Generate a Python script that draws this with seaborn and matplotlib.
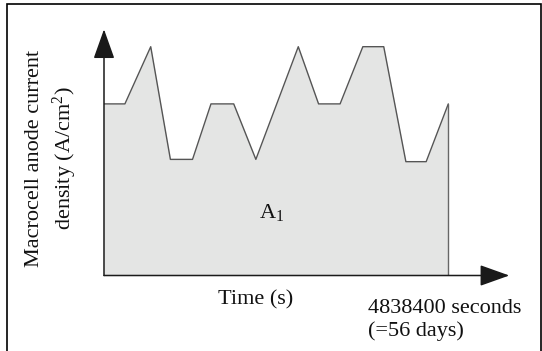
import numpy as np
import pandas as pd
import matplotlib
matplotlib.use("Agg")
import matplotlib.pyplot as plt
from matplotlib.patches import FancyArrowPatch, Rectangle, ArrowStyle
import seaborn as sns

# ---- data ----
time_days = [0, 3.4, 7.6, 10.8, 14.4, 17.4, 21.1, 24.7, 31.6, 34.9, 38.4, 42.1, 45.5, 49.1, 52.4, 56]
density = [3, 3, 4, 2.03, 2.03, 3, 3, 2.03, 4, 3, 3, 4, 4, 1.99, 1.99, 3]
SECONDS_PER_DAY = 86400
x_label = "Time (s)"
y_label = "Macrocell anode current\ndensity (A/cm$^{\\mathregular{2}}$)"
area_label = "A$_{\\mathregular{1}}$"
end_label_1 = "4838400 seconds"
end_label_2 = "(=56 days)"

time_s = np.array(time_days) * SECONDS_PER_DAY
df = pd.DataFrame({"time": time_s, "density": density})

sns.set_theme(style="white")
plt.rcParams["font.family"] = ["Liberation Serif", "DejaVu Serif"]
plt.rcParams["mathtext.fontset"] = "custom"
plt.rcParams["mathtext.rm"] = "Liberation Serif"
plt.rcParams["mathtext.it"] = "Liberation Serif"
plt.rcParams["mathtext.default"] = "regular"

W, H = 542, 351
fig = plt.figure(figsize=(W / 100, H / 100), dpi=100)
fig.patch.set_facecolor("white")

def fx(x):
    return x / W

def fy(y):
    return 1 - y / H

# axes placed so origin at (104, 275.5) px and arrow tips at x=509.3 / y=29.3
x0, y0, x1, y1 = 104, 275.5, 509.3, 29.3
ax = fig.add_axes([fx(x0), fy(y0), (x1 - x0) / W, (y0 - y1) / H])
ax.set_facecolor("none")

ax.fill_between(df["time"], df["density"], 0, color="#e4e5e4", linewidth=0, zorder=1)
sns.lineplot(data=df, x="time", y="density", ax=ax, color="#555555", linewidth=1.0,
             sort=False, estimator=None, zorder=2)
# closing vertical edge at the end of the record
end_df = pd.DataFrame({"time": [time_s[-1], time_s[-1]], "density": [density[-1], 0]})
sns.lineplot(data=end_df, x="time", y="density", ax=ax, color="#666666", linewidth=1.0,
             sort=False, estimator=None, zorder=2)

ax.set_xlim(0, (x1 - x0) / ((344.3) / 56) * SECONDS_PER_DAY)
ax.set_ylim(0, (y0 - y1) / 57.2)
ax.set_xticks([])
ax.set_yticks([])
ax.set_xlabel("")
ax.set_ylabel("")
for s in ax.spines.values():
    s.set_visible(False)

# arrow axes
style = ArrowStyle("-|>", head_length=18.5, head_width=6.6)
for start, end in [((0, 0), (0, 1)), ((0, 0), (1, 0))]:
    arr = FancyArrowPatch(start, end, transform=ax.transAxes, arrowstyle=style,
                          mutation_scale=1, shrinkA=0, shrinkB=0, color="#1a1a1a",
                          linewidth=1.1, clip_on=False, zorder=3)
    ax.add_patch(arr)

# texts
fs = 16
fig.text(fx(256), fy(304), x_label, ha="center", va="baseline", fontsize=fs, color="#111111")
fig.text(fx(368.5), fy(313), end_label_1, ha="left", va="baseline", fontsize=fs, color="#111111")
fig.text(fx(368.5), fy(336), end_label_2, ha="left", va="baseline", fontsize=fs, color="#111111")
fig.text(fx(259), fy(218), area_label, ha="left", va="baseline", fontsize=fs, color="#111111")
fig.text(fx(52), fy(158), y_label, ha="center", va="center", rotation=90, fontsize=fs,
         multialignment="center", linespacing=1.3, color="#111111")

# outer frame
frame = Rectangle((fx(7.3), fy(360)), fx(540.5) - fx(7.3), fy(4.3) - fy(360),
                  transform=fig.transFigure, fill=False, edgecolor="black", linewidth=1.2,
                  clip_on=False)
fig.patches.append(frame)

fig.savefig("out.png", dpi=100)
